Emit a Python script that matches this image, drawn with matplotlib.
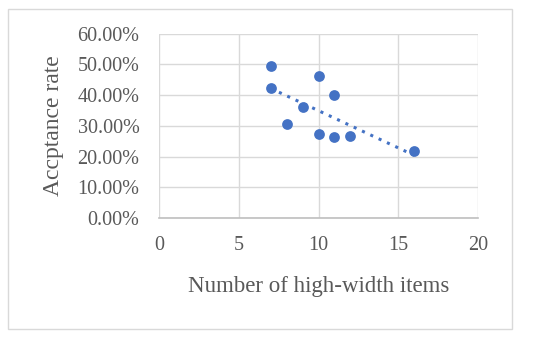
import matplotlib
matplotlib.use("Agg")
import matplotlib.pyplot as plt
import numpy as np
from matplotlib.ticker import FuncFormatter
from matplotlib.patches import Rectangle

x_items = [7, 7, 10, 11, 9, 8, 10, 11, 12, 16]
acceptance = [0.495, 0.424, 0.463, 0.400, 0.362, 0.305, 0.273, 0.264, 0.266, 0.218]
x_ticks = [0, 5, 10, 15, 20]
y_ticks = [0.0, 0.1, 0.2, 0.3, 0.4, 0.5, 0.6]

plt.rcParams['font.family'] = ['Liberation Serif', 'DejaVu Serif']
txt = '#595959'
W, H = 550, 340
fig = plt.figure(figsize=(5.5, 3.4), dpi=100)
fig.patches.append(Rectangle((8 / W, 1 - 329 / H), (512 - 8) / W, (329 - 9) / H,
                             transform=fig.transFigure, fill=False,
                             edgecolor='#d9d9d9', linewidth=1))
ax = fig.add_axes([159 / W, 1 - 218 / H, (478 - 159) / W, (218 - 33.7) / H])

ax.set_xlim(0, 20)
ax.set_ylim(0, 0.6)
ax.set_xticks(x_ticks)
ax.set_yticks(y_ticks)
ax.yaxis.set_major_formatter(FuncFormatter(lambda v, p: f"{v*100:.2f}%"))
ax.grid(True, color='#d9d9d9', linewidth=1)
ax.set_axisbelow(True)
for s in ['top', 'right', 'left']:
    ax.spines[s].set_visible(False)
ax.spines['bottom'].set_color('#bfbfbf')
ax.spines['bottom'].set_linewidth(1.2)
ax.tick_params(length=0, labelsize=14.5, colors=txt)
ax.tick_params(axis='y', pad=14)
ax.tick_params(axis='x', pad=13)

ax.scatter(x_items, acceptance, s=60, color='#4472C4', zorder=3, linewidths=0)
coef = np.polyfit(x_items, acceptance, 1)
xs = np.array([min(x_items), max(x_items)])
ax.plot(xs, np.polyval(coef, xs), linestyle=(0, (1, 2)), color='#4472C4',
        linewidth=2.2, zorder=2)

ax.set_xlabel('Number of high-width items', fontsize=16.5, color=txt, labelpad=15)
ax.set_ylabel('Accptance rate', fontsize=17, color=txt, labelpad=10)

fig.savefig('out.png', dpi=100, facecolor='white')
